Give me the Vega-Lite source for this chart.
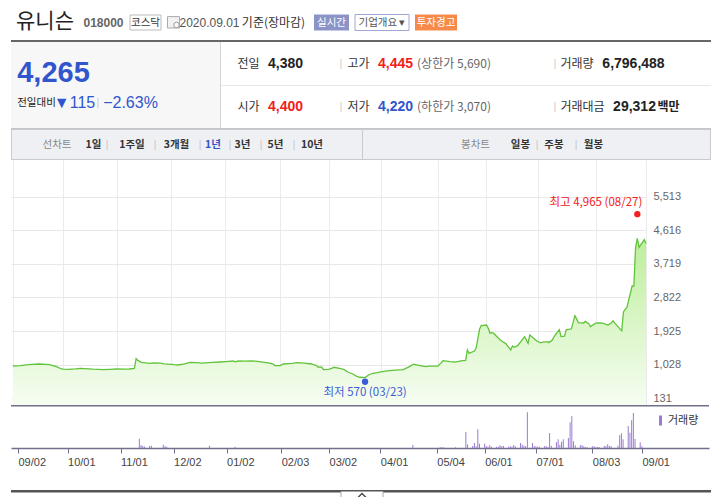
{
"$schema": "https://vega.github.io/schema/vega-lite/v6.json",
"background": "#ffffff",
"padding": {"left": 9, "top": 0, "right": 0, "bottom": 0},
"config": {"view": {"stroke": null}, "concat": {"spacing": 0}, "text": {"font": "Noto Sans CJK KR"}},
"resolve": {"scale": {"color": "independent"}, "legend": {"color": "independent"}},
"datasets": {
"price": [
{"date":"2019-09-02","price":991},{"date":"2019-09-06","price":1000},{"date":"2019-09-11","price":1030},{"date":"2019-09-17","price":1044},{"date":"2019-09-23","price":1030},{"date":"2019-09-27","price":972},{"date":"2019-09-30","price":911},
{"date":"2019-10-01","price":905},{"date":"2019-10-04","price":903},{"date":"2019-10-08","price":915},{"date":"2019-10-11","price":929},{"date":"2019-10-18","price":905},{"date":"2019-10-24","price":892},{"date":"2019-10-28","price":900},
{"date":"2019-11-01","price":911},{"date":"2019-11-05","price":905},{"date":"2019-11-08","price":911},{"date":"2019-11-11","price":925},{"date":"2019-11-12","price":1186},{"date":"2019-11-13","price":1140},{"date":"2019-11-15","price":1090},{"date":"2019-11-20","price":1063},{"date":"2019-11-22","price":1075},{"date":"2019-11-26","price":1070},{"date":"2019-11-28","price":1050},
{"date":"2019-12-02","price":1036},{"date":"2019-12-04","price":1025},{"date":"2019-12-06","price":1017},{"date":"2019-12-10","price":1045},{"date":"2019-12-13","price":1090},{"date":"2019-12-17","price":1080},{"date":"2019-12-20","price":1070},{"date":"2019-12-26","price":1085},{"date":"2019-12-30","price":1097},
{"date":"2020-01-03","price":1110},{"date":"2020-01-07","price":1124},{"date":"2020-01-08","price":1100},{"date":"2020-01-10","price":1124},{"date":"2020-01-14","price":1120},{"date":"2020-01-17","price":1130},{"date":"2020-01-21","price":1115},{"date":"2020-01-28","price":1070},{"date":"2020-01-30","price":1040},{"date":"2020-01-31","price":999},
{"date":"2020-02-03","price":1000},{"date":"2020-02-05","price":1044},{"date":"2020-02-10","price":1060},{"date":"2020-02-13","price":1080},{"date":"2020-02-17","price":1065},{"date":"2020-02-21","price":1044},{"date":"2020-02-24","price":1000},{"date":"2020-02-25","price":956},{"date":"2020-02-26","price":965},{"date":"2020-02-27","price":960},{"date":"2020-02-28","price":892},
{"date":"2020-03-02","price":900},{"date":"2020-03-04","price":935},{"date":"2020-03-05","price":956},{"date":"2020-03-09","price":920},{"date":"2020-03-11","price":892},{"date":"2020-03-13","price":830},{"date":"2020-03-16","price":777},{"date":"2020-03-18","price":720},{"date":"2020-03-20","price":690},{"date":"2020-03-23","price":680},{"date":"2020-03-25","price":750},{"date":"2020-03-27","price":790},{"date":"2020-03-30","price":812},
{"date":"2020-04-01","price":835},{"date":"2020-04-06","price":865},{"date":"2020-04-10","price":880},{"date":"2020-04-14","price":892},{"date":"2020-04-17","price":960},{"date":"2020-04-20","price":1036},{"date":"2020-04-23","price":1010},{"date":"2020-04-27","price":972},{"date":"2020-04-29","price":985},
{"date":"2020-05-04","price":991},{"date":"2020-05-06","price":1080},{"date":"2020-05-07","price":1132},{"date":"2020-05-11","price":1110},{"date":"2020-05-14","price":1097},{"date":"2020-05-18","price":1132},{"date":"2020-05-20","price":1140},{"date":"2020-05-21","price":1418},{"date":"2020-05-22","price":1330},{"date":"2020-05-25","price":1390},{"date":"2020-05-26","price":1463},{"date":"2020-05-27","price":1700},{"date":"2020-05-28","price":1971},{"date":"2020-05-29","price":2070},
{"date":"2020-06-01","price":2085},{"date":"2020-06-02","price":2003},{"date":"2020-06-03","price":1867},{"date":"2020-06-04","price":1880},{"date":"2020-06-05","price":1867},{"date":"2020-06-09","price":1685},{"date":"2020-06-11","price":1620},{"date":"2020-06-12","price":1597},{"date":"2020-06-15","price":1418},{"date":"2020-06-16","price":1525},{"date":"2020-06-17","price":1490},{"date":"2020-06-19","price":1533},{"date":"2020-06-23","price":1776},{"date":"2020-06-25","price":1597},{"date":"2020-06-26","price":1821},{"date":"2020-06-30","price":1658},
{"date":"2020-07-02","price":1615},{"date":"2020-07-06","price":1640},{"date":"2020-07-07","price":1615},{"date":"2020-07-09","price":1685},{"date":"2020-07-10","price":1776},{"date":"2020-07-13","price":1957},{"date":"2020-07-14","price":1776},{"date":"2020-07-16","price":1790},{"date":"2020-07-17","price":1957},{"date":"2020-07-20","price":1984},{"date":"2020-07-22","price":2334},{"date":"2020-07-23","price":2250},{"date":"2020-07-24","price":2150},{"date":"2020-07-27","price":2140},{"date":"2020-07-28","price":2181},{"date":"2020-07-30","price":2120},{"date":"2020-07-31","price":2045},
{"date":"2020-08-03","price":2136},{"date":"2020-08-05","price":2140},{"date":"2020-08-07","price":2136},{"date":"2020-08-10","price":2083},{"date":"2020-08-12","price":2140},{"date":"2020-08-13","price":2200},{"date":"2020-08-14","price":2136},{"date":"2020-08-18","price":1930},{"date":"2020-08-19","price":2433},{"date":"2020-08-20","price":2500},{"date":"2020-08-21","price":2558},{"date":"2020-08-24","price":3127},{"date":"2020-08-25","price":3127},{"date":"2020-08-26","price":4160},{"date":"2020-08-27","price":4403},{"date":"2020-08-28","price":4160},{"date":"2020-08-31","price":4366},{"date":"2020-09-01","price":4265}
],
"volume": [
{"date":"2019-11-12","vol":37},{"date":"2019-11-13","vol":12},{"date":"2019-11-14","vol":8},{"date":"2019-11-15","vol":6},{"date":"2019-11-18","vol":8},{"date":"2019-11-19","vol":9},{"date":"2019-11-26","vol":13},{"date":"2019-11-27","vol":7},{"date":"2019-11-28","vol":5},{"date":"2019-12-23","vol":9},{"date":"2020-01-07","vol":5},{"date":"2020-04-20","vol":12},
{"date":"2020-05-06","vol":3},{"date":"2020-05-07","vol":3},{"date":"2020-05-08","vol":3},{"date":"2020-05-15","vol":3},{"date":"2020-05-21","vol":64},{"date":"2020-05-22","vol":15},{"date":"2020-05-25","vol":8},{"date":"2020-05-26","vol":20},{"date":"2020-05-27","vol":7},{"date":"2020-05-28","vol":75},{"date":"2020-05-29","vol":17},
{"date":"2020-06-01","vol":17},{"date":"2020-06-02","vol":8},{"date":"2020-06-03","vol":5},{"date":"2020-06-04","vol":11},{"date":"2020-06-05","vol":5},{"date":"2020-06-08","vol":5},{"date":"2020-06-09","vol":5},{"date":"2020-06-10","vol":11},{"date":"2020-06-11","vol":7},{"date":"2020-06-12","vol":8},{"date":"2020-06-15","vol":5},{"date":"2020-06-16","vol":7},{"date":"2020-06-17","vol":5},{"date":"2020-06-18","vol":12},{"date":"2020-06-19","vol":7},{"date":"2020-06-22","vol":20},{"date":"2020-06-23","vol":13},{"date":"2020-06-24","vol":9},{"date":"2020-06-25","vol":7},{"date":"2020-06-26","vol":143},{"date":"2020-06-29","vol":20},{"date":"2020-06-30","vol":7},
{"date":"2020-07-01","vol":7},{"date":"2020-07-02","vol":5},{"date":"2020-07-03","vol":5},{"date":"2020-07-06","vol":7},{"date":"2020-07-07","vol":8},{"date":"2020-07-08","vol":4},{"date":"2020-07-09","vol":60},{"date":"2020-07-10","vol":9},{"date":"2020-07-13","vol":23},{"date":"2020-07-14","vol":35},{"date":"2020-07-15","vol":13},{"date":"2020-07-16","vol":25},{"date":"2020-07-17","vol":35},{"date":"2020-07-20","vol":40},{"date":"2020-07-21","vol":103},{"date":"2020-07-22","vol":128},{"date":"2020-07-23","vol":27},{"date":"2020-07-24","vol":11},{"date":"2020-07-27","vol":11},{"date":"2020-07-28","vol":11},{"date":"2020-07-29","vol":7},{"date":"2020-07-30","vol":4},{"date":"2020-07-31","vol":3},
{"date":"2020-08-03","vol":7},{"date":"2020-08-04","vol":7},{"date":"2020-08-05","vol":4},{"date":"2020-08-06","vol":4},{"date":"2020-08-07","vol":4},{"date":"2020-08-10","vol":8},{"date":"2020-08-11","vol":8},{"date":"2020-08-12","vol":15},{"date":"2020-08-13","vol":8},{"date":"2020-08-14","vol":7},{"date":"2020-08-18","vol":9},{"date":"2020-08-19","vol":51},{"date":"2020-08-20","vol":59},{"date":"2020-08-21","vol":35},{"date":"2020-08-24","vol":88},{"date":"2020-08-25","vol":61},{"date":"2020-08-26","vol":111},{"date":"2020-08-27","vol":140},{"date":"2020-08-28","vol":36},{"date":"2020-08-31","vol":23},{"date":"2020-09-01","vol":6.8}
],
"extremes": [
{"date":"2020-08-27","price":4965,"kind":"high","label":"최고 4,965 (08/27)"},
{"date":"2020-03-23","price":570,"kind":"low","label":"최저 570 (03/23)"}
]
},
"spacing": 0,
"vconcat": [
{"spacing":0,"bounds":"flush","hconcat":[
 {"width":68,"height":40,"data":{"values":[{"t":"유니슨"}]},"mark":{"type":"text","fontSize":21,"color":"#222222","dy":2},"encoding":{"text":{"field":"t","type":"nominal"}}},
 {"width":49,"height":40,"data":{"values":[{"t":"018000"}]},"mark":{"type":"text","font":"Liberation Sans","fontSize":12,"fontWeight":"bold","color":"#666666","dy":3},"encoding":{"text":{"field":"t","type":"nominal"}}},
 {"width":35,"height":40,"data":{"values":[{"t":"코스닥"}]},"layer":[
   {"mark":{"type":"point","shape":"M-15.5,-7.5H15.5V7.5H-15.5Z","size":4,"fill":"#ffffff","stroke":"#bbbbbb","strokeWidth":1,"opacity":1,"yOffset":2.5},"encoding":{}},
   {"mark":{"type":"text","fontSize":10.5,"color":"#333333","dy":2.5},"encoding":{"text":{"field":"t","type":"nominal"}}}]},
 {"width":21,"height":40,"data":{"values":[{"t":""}]},"layer":[
   {"mark":{"type":"point","shape":"M-6,-5.4H6V6H-6Z","size":4,"fill":"#f2f2f2","stroke":"#aaaaaa","strokeWidth":1,"opacity":1,"yOffset":2},"encoding":{}},
   {"mark":{"type":"point","shape":"circle","size":30,"fill":"#ffffff","stroke":"#999999","strokeWidth":1,"opacity":1,"xOffset":3,"yOffset":5},"encoding":{}}]},
 {"width":49,"height":40,"data":{"values":[{"t":"2020.09.01"}]},"mark":{"type":"text","font":"Liberation Sans","fontSize":12,"color":"#555555","dy":2.5,"dx":1},"encoding":{"text":{"field":"t","type":"nominal"}}},
 {"width":81,"height":40,"data":{"values":[{"t":"기준(장마감)"}]},"mark":{"type":"text","fontSize":12,"color":"#333333","dy":2.5},"encoding":{"text":{"field":"t","type":"nominal"}}},
 {"width":35,"height":40,"data":{"values":[{"t":"실시간"}]},"layer":[
   {"mark":{"type":"point","shape":"M-17.5,-8H17.5V8H-17.5Z","size":4,"fill":"#8b93c7","strokeWidth":0,"opacity":1,"yOffset":2.5},"encoding":{}},
   {"mark":{"type":"text","fontSize":10.5,"color":"#ffffff","dy":2.5},"encoding":{"text":{"field":"t","type":"nominal"}}}]},
 {"width":66,"height":40,"data":{"values":[{"t":"기업개요 ▾"}]},"layer":[
   {"mark":{"type":"point","shape":"M-27,-8H27V8H-27Z","size":4,"fill":"#ffffff","stroke":"#9ea6d6","strokeWidth":1,"opacity":1,"yOffset":2.5},"encoding":{}},
   {"mark":{"type":"text","fontSize":10.5,"color":"#555555","dy":2.5},"encoding":{"text":{"field":"t","type":"nominal"}}}]},
 {"width":42,"height":40,"data":{"values":[{"t":"투자경고"}]},"layer":[
   {"mark":{"type":"point","shape":"M-21,-8H21V8H-21Z","size":4,"fill":"#f78a4a","strokeWidth":0,"opacity":1,"yOffset":2.5},"encoding":{}},
   {"mark":{"type":"text","fontSize":10.5,"color":"#ffffff","dy":2.5},"encoding":{"text":{"field":"t","type":"nominal"}}}]}
]},
{"spacing":0,"vconcat":[
 {"width":702,"height":2,"data":{"values":[{}]},"mark":{"type":"rect","fill":"#666666"},"encoding":{}},
 {"spacing":0,"hconcat":[
   {"spacing":0,"vconcat":[
     {"spacing":0,"bounds":"flush","hconcat":[
       {"width":85,"height":46,"view":{"fill":"#f7f7f8","stroke":null},"data":{"values":[{"t":"4,265"}]},"mark":{"type":"text","font":"Liberation Sans","fontSize":29,"fontWeight":"bold","color":"#3155cc","dy":8},"encoding":{"text":{"field":"t","type":"nominal"}}},
       {"width":124,"height":46,"data":{"values":[{}]},"mark":{"type":"rect","fill":"#f7f7f8"},"encoding":{}}
     ]},
     {"spacing":0,"bounds":"flush","hconcat":[
       {"width":45,"height":40,"view":{"fill":"#f7f7f8","stroke":null},"data":{"values":[{"t":"전일대비"}]},"mark":{"type":"text","fontSize":10.5,"color":"#222222","dx":3,"dy":-5},"encoding":{"text":{"field":"t","type":"nominal"}}},
       {"width":39,"height":40,"view":{"fill":"#f7f7f8","stroke":null},"data":{"values":[{"t":"▼115"}]},"mark":{"type":"text","font":"Liberation Sans","fontSize":16,"color":"#3155cc","dx":-1,"dy":-5},"encoding":{"text":{"field":"t","type":"nominal"}}},
       {"width":6,"height":40,"view":{"fill":"#f7f7f8","stroke":null},"data":{"values":[{"t":"|"}]},"mark":{"type":"text","font":"Liberation Sans","fontSize":11,"color":"#cccccc","dy":-5},"encoding":{"text":{"field":"t","type":"nominal"}}},
       {"width":59,"height":40,"view":{"fill":"#f7f7f8","stroke":null},"data":{"values":[{"t":"−2.63%"}]},"mark":{"type":"text","font":"Liberation Sans","fontSize":16,"color":"#3155cc","dy":-5},"encoding":{"text":{"field":"t","type":"nominal"}}},
       {"width":60,"height":40,"data":{"values":[{}]},"mark":{"type":"rect","fill":"#f7f7f8"},"encoding":{}}
     ]}
   ]},
   {"width":1,"height":86,"data":{"values":[{}]},"mark":{"type":"rect","fill":"#d5d5d5"},"encoding":{}},
   {"spacing":0,"vconcat":[
     {"spacing":0,"bounds":"flush","hconcat":[
       {"width":43,"height":43,"data":{"values":[{"t":"전일"}]},"mark":{"type":"text","fontSize":12,"color":"#333333","dx":6},"encoding":{"text":{"field":"t","type":"nominal"}}},
       {"width":58,"height":43,"data":{"values":[{"t":"4,380"}]},"mark":{"type":"text","font":"Liberation Sans","fontSize":14,"fontWeight":"bold","color":"#222222","dx":-7.5},"encoding":{"text":{"field":"t","type":"nominal"}}},
       {"width":22,"height":43,"data":{"values":[{"t":"|"}]},"mark":{"type":"text","font":"Liberation Sans","fontSize":11,"color":"#cccccc","dx":8},"encoding":{"text":{"field":"t","type":"nominal"}}},
       {"width":30,"height":43,"data":{"values":[{"t":"고가"}]},"mark":{"type":"text","fontSize":12,"color":"#333333","dx":-0.5},"encoding":{"text":{"field":"t","type":"nominal"}}},
       {"width":41,"height":43,"data":{"values":[{"t":"4,445"}]},"mark":{"type":"text","font":"Liberation Sans","fontSize":14,"fontWeight":"bold","color":"#f31c1c","dx":1},"encoding":{"text":{"field":"t","type":"nominal"}}},
       {"width":78,"height":43,"data":{"values":[{"t":"(상한가 5,690)"}]},"mark":{"type":"text","fontSize":12,"color":"#666666"},"encoding":{"text":{"field":"t","type":"nominal"}}},
       {"width":57,"height":43,"data":{"values":[{}]},"mark":{"type":"rect","opacity":0},"encoding":{}},
       {"width":10,"height":43,"data":{"values":[{"t":"|"}]},"mark":{"type":"text","font":"Liberation Sans","fontSize":11,"color":"#cccccc"},"encoding":{"text":{"field":"t","type":"nominal"}}},
       {"width":38,"height":43,"data":{"values":[{"t":"거래량"}]},"mark":{"type":"text","fontSize":12,"color":"#333333","dx":-2},"encoding":{"text":{"field":"t","type":"nominal"}}},
       {"width":73,"height":43,"data":{"values":[{"t":"6,796,488"}]},"mark":{"type":"text","font":"Liberation Sans","fontSize":14,"fontWeight":"bold","color":"#222222","dx":-1},"encoding":{"text":{"field":"t","type":"nominal"}}},
       {"width":40,"height":43,"data":{"values":[{}]},"mark":{"type":"rect","opacity":0},"encoding":{}}
     ]},
     {"width":490,"height":1,"data":{"values":[{}]},"mark":{"type":"rect","fill":"#e8e8e8"},"encoding":{}},
     {"spacing":0,"bounds":"flush","hconcat":[
       {"width":43,"height":42,"data":{"values":[{"t":"시가"}]},"mark":{"type":"text","fontSize":12,"color":"#333333","dx":6},"encoding":{"text":{"field":"t","type":"nominal"}}},
       {"width":58,"height":42,"data":{"values":[{"t":"4,400"}]},"mark":{"type":"text","font":"Liberation Sans","fontSize":14,"fontWeight":"bold","color":"#f31c1c","dx":-7.5},"encoding":{"text":{"field":"t","type":"nominal"}}},
       {"width":22,"height":42,"data":{"values":[{"t":"|"}]},"mark":{"type":"text","font":"Liberation Sans","fontSize":11,"color":"#cccccc","dx":8},"encoding":{"text":{"field":"t","type":"nominal"}}},
       {"width":30,"height":42,"data":{"values":[{"t":"저가"}]},"mark":{"type":"text","fontSize":12,"color":"#333333","dx":-0.5},"encoding":{"text":{"field":"t","type":"nominal"}}},
       {"width":41,"height":42,"data":{"values":[{"t":"4,220"}]},"mark":{"type":"text","font":"Liberation Sans","fontSize":14,"fontWeight":"bold","color":"#3155cc","dx":1},"encoding":{"text":{"field":"t","type":"nominal"}}},
       {"width":78,"height":42,"data":{"values":[{"t":"(하한가 3,070)"}]},"mark":{"type":"text","fontSize":12,"color":"#666666"},"encoding":{"text":{"field":"t","type":"nominal"}}},
       {"width":57,"height":42,"data":{"values":[{}]},"mark":{"type":"rect","opacity":0},"encoding":{}},
       {"width":10,"height":42,"data":{"values":[{"t":"|"}]},"mark":{"type":"text","font":"Liberation Sans","fontSize":11,"color":"#cccccc"},"encoding":{"text":{"field":"t","type":"nominal"}}},
       {"width":45,"height":42,"data":{"values":[{"t":"거래대금"}]},"mark":{"type":"text","fontSize":12,"color":"#333333"},"encoding":{"text":{"field":"t","type":"nominal"}}},
       {"width":59,"height":42,"data":{"values":[{"t":"29,312"}]},"mark":{"type":"text","font":"Liberation Sans","fontSize":14,"fontWeight":"bold","color":"#222222"},"encoding":{"text":{"field":"t","type":"nominal"}}},
       {"width":9,"height":42,"data":{"values":[{"t":"백만"}]},"mark":{"type":"text","fontSize":12,"fontWeight":"bold","color":"#222222"},"encoding":{"text":{"field":"t","type":"nominal"}}},
       {"width":38,"height":42,"data":{"values":[{}]},"mark":{"type":"rect","opacity":0},"encoding":{}}
     ]}
   ]},
   {"width":1,"height":86,"data":{"values":[{}]},"mark":{"type":"rect","fill":"#d5d5d5"},"encoding":{}}
 ]},
 {"width":701,"height":1,"data":{"values":[{}]},"mark":{"type":"rect","fill":"#c5c5c5"},"encoding":{}}
]},
{"spacing":0,"vconcat":[
 {"width":700,"height":1,"data":{"values":[{}]},"mark":{"type":"rect","fill":"#c9cad0"},"encoding":{}},
 {"spacing":0,"bounds":"flush","hconcat":[
  {"width":1,"height":29,"data":{"values":[{}]},"mark":{"type":"rect","fill":"#c9cad0"},"encoding":{}},
  {"width":71,"height":29,"view":{"fill":"#eff0f4","stroke":null},"data":{"values":[{"t":"선차트"}]},"mark":{"type":"text","fontSize":10.5,"color":"#888888","dx":9.5},"encoding":{"text":{"field":"t","type":"nominal"}}},
  {"width":21,"height":29,"view":{"fill":"#eff0f4","stroke":null},"data":{"values":[{"t":"1일"}]},"mark":{"type":"text","fontSize":10.5,"fontWeight":"bold","color":"#333333"},"encoding":{"text":{"field":"t","type":"nominal"}}},
  {"width":6,"height":29,"view":{"fill":"#eff0f4","stroke":null},"data":{"values":[{"t":"|"}]},"mark":{"type":"text","font":"Liberation Sans","fontSize":10,"color":"#c4c4c4"},"encoding":{"text":{"field":"t","type":"nominal"}}},
  {"width":42,"height":29,"view":{"fill":"#eff0f4","stroke":null},"data":{"values":[{"t":"1주일"}]},"mark":{"type":"text","fontSize":10.5,"fontWeight":"bold","color":"#333333","dx":1},"encoding":{"text":{"field":"t","type":"nominal"}}},
  {"width":6,"height":29,"view":{"fill":"#eff0f4","stroke":null},"data":{"values":[{"t":"|"}]},"mark":{"type":"text","font":"Liberation Sans","fontSize":10,"color":"#c4c4c4"},"encoding":{"text":{"field":"t","type":"nominal"}}},
  {"width":37,"height":29,"view":{"fill":"#eff0f4","stroke":null},"data":{"values":[{"t":"3개월"}]},"mark":{"type":"text","fontSize":10.5,"fontWeight":"bold","color":"#333333"},"encoding":{"text":{"field":"t","type":"nominal"}}},
  {"width":10,"height":29,"view":{"fill":"#eff0f4","stroke":null},"data":{"values":[{"t":"|"}]},"mark":{"type":"text","font":"Liberation Sans","fontSize":10,"color":"#c4c4c4"},"encoding":{"text":{"field":"t","type":"nominal"}}},
  {"width":16,"height":29,"view":{"fill":"#eff0f4","stroke":null},"data":{"values":[{"t":"1년"}]},"mark":{"type":"text","fontSize":10.5,"fontWeight":"bold","color":"#3452c5"},"encoding":{"text":{"field":"t","type":"nominal"}}},
  {"width":12,"height":29,"view":{"fill":"#eff0f4","stroke":null},"data":{"values":[{"t":"|"}]},"mark":{"type":"text","font":"Liberation Sans","fontSize":10,"color":"#c4c4c4","dx":3},"encoding":{"text":{"field":"t","type":"nominal"}}},
  {"width":19,"height":29,"view":{"fill":"#eff0f4","stroke":null},"data":{"values":[{"t":"3년"}]},"mark":{"type":"text","fontSize":10.5,"fontWeight":"bold","color":"#333333"},"encoding":{"text":{"field":"t","type":"nominal"}}},
  {"width":12,"height":29,"view":{"fill":"#eff0f4","stroke":null},"data":{"values":[{"t":"|"}]},"mark":{"type":"text","font":"Liberation Sans","fontSize":10,"color":"#c4c4c4","dx":3},"encoding":{"text":{"field":"t","type":"nominal"}}},
  {"width":23,"height":29,"view":{"fill":"#eff0f4","stroke":null},"data":{"values":[{"t":"5년"}]},"mark":{"type":"text","fontSize":10.5,"fontWeight":"bold","color":"#333333"},"encoding":{"text":{"field":"t","type":"nominal"}}},
  {"width":14,"height":29,"view":{"fill":"#eff0f4","stroke":null},"data":{"values":[{"t":"|"}]},"mark":{"type":"text","font":"Liberation Sans","fontSize":10,"color":"#c4c4c4"},"encoding":{"text":{"field":"t","type":"nominal"}}},
  {"width":22,"height":29,"view":{"fill":"#eff0f4","stroke":null},"data":{"values":[{"t":"10년"}]},"mark":{"type":"text","fontSize":10.5,"fontWeight":"bold","color":"#333333"},"encoding":{"text":{"field":"t","type":"nominal"}}},
  {"width":39,"height":29,"data":{"values":[{}]},"mark":{"type":"rect","fill":"#eff0f4"},"encoding":{}},
  {"width":1,"height":29,"data":{"values":[{}]},"mark":{"type":"rect","fill":"#c9cad0"},"encoding":{}},
  {"width":80,"height":29,"data":{"values":[{}]},"mark":{"type":"rect","fill":"#eff0f4"},"encoding":{}},
  {"width":65,"height":29,"view":{"fill":"#eff0f4","stroke":null},"data":{"values":[{"t":"봉차트"}]},"mark":{"type":"text","fontSize":10.5,"color":"#888888"},"encoding":{"text":{"field":"t","type":"nominal"}}},
  {"width":25,"height":29,"view":{"fill":"#eff0f4","stroke":null},"data":{"values":[{"t":"일봉"}]},"mark":{"type":"text","fontSize":10.5,"fontWeight":"bold","color":"#333333"},"encoding":{"text":{"field":"t","type":"nominal"}}},
  {"width":8,"height":29,"view":{"fill":"#eff0f4","stroke":null},"data":{"values":[{"t":"|"}]},"mark":{"type":"text","font":"Liberation Sans","fontSize":10,"color":"#c4c4c4"},"encoding":{"text":{"field":"t","type":"nominal"}}},
  {"width":28,"height":29,"view":{"fill":"#eff0f4","stroke":null},"data":{"values":[{"t":"주봉"}]},"mark":{"type":"text","fontSize":10.5,"fontWeight":"bold","color":"#333333","dx":-1},"encoding":{"text":{"field":"t","type":"nominal"}}},
  {"width":14,"height":29,"view":{"fill":"#eff0f4","stroke":null},"data":{"values":[{"t":"|"}]},"mark":{"type":"text","font":"Liberation Sans","fontSize":10,"color":"#c4c4c4"},"encoding":{"text":{"field":"t","type":"nominal"}}},
  {"width":21,"height":29,"view":{"fill":"#eff0f4","stroke":null},"data":{"values":[{"t":"월봉"}]},"mark":{"type":"text","fontSize":10.5,"fontWeight":"bold","color":"#333333"},"encoding":{"text":{"field":"t","type":"nominal"}}},
  {"width":106,"height":29,"data":{"values":[{}]},"mark":{"type":"rect","fill":"#eff0f4"},"encoding":{}},
  {"width":1,"height":29,"data":{"values":[{}]},"mark":{"type":"rect","fill":"#c9cad0"},"encoding":{}}
 ]},
 {"width":700,"height":1,"data":{"values":[{}]},"mark":{"type":"rect","fill":"#c9cad0"},"encoding":{}}
]},
{"width":635,"height":245,
 "encoding":{"y":{"field":"price","type":"quantitative","scale":{"domain":[-51,6493],"nice":false,"zero":false},
     "axis":{"orient":"right","values":[131,1028,1925,2822,3719,4616,5513],"format":",d","grid":true,"gridColor":"#e8e8e8","ticks":false,"tickSize":0,"domain":false,"labelPadding":7,"labelFont":"Liberation Sans","labelFontSize":11,"labelColor":"#666666","title":null}}},
 "layer":[
 {"data":{"values":[{}]},"mark":{"type":"rect","fill":"#ffffff"},"encoding":{"y":{"datum":5529,"type":"quantitative","scale":{"domain":[-51,6493],"nice":false,"zero":false},
     "axis":{"orient":"right","values":[131,1028,1925,2822,3719,4616,5513],"format":",d","grid":true,"gridColor":"#e8e8e8","ticks":false,"tickSize":0,"domain":false,"labelPadding":7,"labelFont":"Liberation Sans","labelFontSize":11,"labelColor":"#666666","title":null}},"y2":{"datum":6493}}},
 {"encoding":{
   "x":{"field":"date","type":"temporal","scale":{"type":"utc","nice":false,"domain":[{"year":2019,"month":8,"date":31,"hours":20,"minutes":19,"utc":true},{"year":2020,"month":9,"date":1,"utc":true}]},
     "axis":{"values":[{"year":2019,"month":9,"date":2,"utc":true},{"year":2019,"month":10,"date":1,"utc":true},{"year":2019,"month":11,"date":1,"utc":true},{"year":2019,"month":12,"date":2,"utc":true},{"year":2020,"month":1,"date":2,"utc":true},{"year":2020,"month":2,"date":3,"utc":true},{"year":2020,"month":3,"date":2,"utc":true},{"year":2020,"month":4,"date":1,"utc":true},{"year":2020,"month":5,"date":4,"utc":true},{"year":2020,"month":6,"date":1,"utc":true},{"year":2020,"month":7,"date":1,"utc":true},{"year":2020,"month":8,"date":3,"utc":true},{"year":2020,"month":9,"date":1,"utc":true}],"grid":true,"gridColor":"#ebebeb","labels":false,"ticks":false,"domain":false,"title":null}}},
  "layer":[
   {"data":{"name":"price"},"mark":{"type":"area","line":false,"fill":{"gradient":"linear","x1":0,"y1":0,"x2":0,"y2":1,"stops":[{"offset":0,"color":"#bdee9b"},{"offset":1,"color":"#f6fdf2"}]}},"encoding":{"y2":{"datum":-51}}},
   {"data":{"name":"price"},"mark":{"type":"line","color":"#60c43a","strokeWidth":1.3},"encoding":{}},
   {"data":{"name":"extremes"},"transform":[{"filter":"datum.kind=='high'"}],"mark":{"type":"point","filled":true,"color":"#f32020","size":40,"opacity":1,"yOffset":-3},"encoding":{}},
   {"data":{"name":"extremes"},"transform":[{"filter":"datum.kind=='low'"}],"mark":{"type":"point","filled":true,"color":"#3a5bd9","size":40,"opacity":1},"encoding":{}},
   {"data":{"name":"extremes"},"transform":[{"filter":"datum.kind=='high'"}],"mark":{"type":"text","align":"right","dx":5,"dy":-14,"fontSize":11.5,"color":"#f32020"},"encoding":{"text":{"field":"label","type":"nominal"}}},
   {"data":{"name":"extremes"},"transform":[{"filter":"datum.kind=='low'"}],"mark":{"type":"text","dy":11,"fontSize":11.5,"color":"#3a5bd9"},"encoding":{"text":{"field":"label","type":"nominal"}}}
  ]}
]},
{"width":698,"height":43,"layer":[
 {"data":{"values":[{}]},"mark":{"type":"rule","color":"#70708a","strokeWidth":1.5},"encoding":{"y":{"datum":169,"type":"quantitative","scale":{"domain":[0,172],"nice":false},"axis":null}}},
 {"data":{"name":"volume"},"mark":{"type":"bar","width":1,"opacity":1},"encoding":{
   "x":{"field":"date","type":"temporal","scale":{"type":"utc","nice":false,"domain":[{"year":2019,"month":8,"date":31,"hours":20,"minutes":19,"utc":true},{"year":2020,"month":10,"date":7,"hours":7,"minutes":51,"utc":true}]},
     "axis":{"values":[{"year":2019,"month":9,"date":2,"utc":true},{"year":2019,"month":10,"date":1,"utc":true},{"year":2019,"month":11,"date":1,"utc":true},{"year":2019,"month":12,"date":2,"utc":true},{"year":2020,"month":1,"date":2,"utc":true},{"year":2020,"month":2,"date":3,"utc":true},{"year":2020,"month":3,"date":2,"utc":true},{"year":2020,"month":4,"date":1,"utc":true},{"year":2020,"month":5,"date":4,"utc":true},{"year":2020,"month":6,"date":1,"utc":true},{"year":2020,"month":7,"date":1,"utc":true},{"year":2020,"month":8,"date":3,"utc":true},{"year":2020,"month":9,"date":1,"utc":true}],"format":"%m/%d","labelAlign":"left","labelBaseline":"top","labelPadding":3,"tickSize":5,"tickColor":"#70708a","tickWidth":1,"domainColor":"#70708a","domainWidth":1.5,"labelFont":"Liberation Sans","labelFontSize":11,"labelColor":"#444444","grid":false,"title":null,"labelOverlap":false,"labelFlush":false,"labelBound":false,"minExtent":41,"maxExtent":41}},
   "y":{"field":"vol","type":"quantitative","scale":{"domain":[0,172],"nice":false},"axis":null},
   "color":{"datum":"거래량","scale":{"range":["#9a7bd1"]},"legend":{"orient":"top-right","offset":10,"title":null,"padding":0,"symbolType":"M-0.3,-1H0.3V1H-0.3Z","symbolSize":100,"symbolStrokeWidth":0,"labelFont":"Noto Sans CJK KR","labelFontSize":11,"labelColor":"#333333","labelOffset":2}}}}
]},
{"width":702,"height":8,"data":{"values":[{}]},"layer":[
 {"mark":{"type":"rule","color":"#555555","strokeWidth":2.5},"encoding":{"y":{"datum":6.75,"type":"quantitative","scale":{"domain":[0,8],"nice":false},"axis":null}}},
 {"mark":{"type":"point","shape":"M-21,0H21V7.5H-21Z","size":4,"fill":"#ffffff","stroke":"#aaaaaa","strokeWidth":1,"opacity":1},"encoding":{"y":{"datum":6.5,"type":"quantitative"}}},
 {"mark":{"type":"point","shape":"M-4,2L0,-2L4,2","size":4,"filled":false,"stroke":"#444444","strokeWidth":1.3,"opacity":1},"encoding":{"y":{"datum":2.5,"type":"quantitative"}}}
]}
]
}
